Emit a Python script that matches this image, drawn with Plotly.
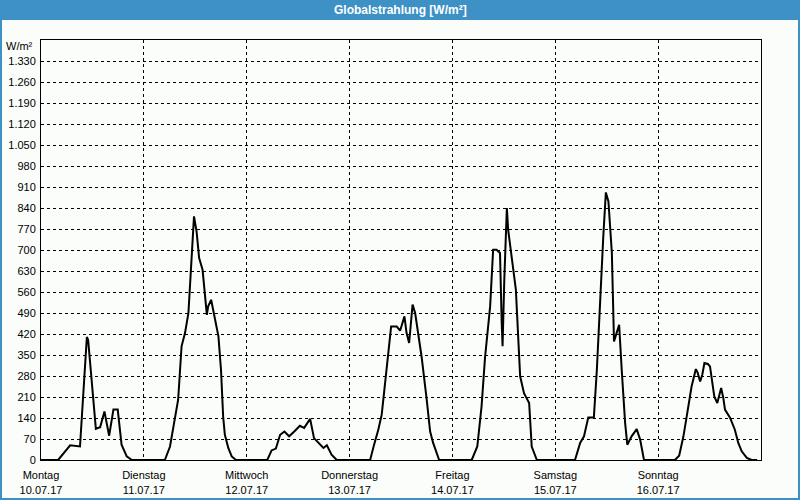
import plotly.graph_objects as go

# ---- data (hours since midnight of each day, W/m²) ----
day_names = ["Montag", "Dienstag", "Mittwoch", "Donnerstag", "Freitag", "Samstag", "Sonntag"]
day_dates = ["10.07.17", "11.07.17", "12.07.17", "13.07.17", "14.07.17", "15.07.17", "16.07.17"]

mon_h = [0, 4.0, 6.8, 9.1, 10.7, 11.0, 12.8, 13.8, 14.8, 15.9, 16.9, 17.9, 18.8, 20.0, 21.2]
mon_v = [0, 0, 49, 45, 410, 400, 104, 109, 162, 81, 168, 168, 51, 12, 0]

tue_h = [4.9, 6.1, 8.0, 8.8, 9.6, 10.4, 11.2, 11.7, 11.9, 12.3, 12.9, 13.7, 14.7, 15.0, 15.7,
         16.6, 17.4, 18.0, 18.5, 18.9, 19.7, 20.5, 21.5]
tue_v = [0, 45, 201, 379, 423, 490, 712, 812, 795, 762, 673, 634, 484, 512, 534,
         468, 412, 301, 145, 84, 40, 12, 0]

wed_h = [4.8, 5.8, 6.8, 7.8, 8.8, 9.9, 11.1, 12.4, 13.4, 14.8, 15.7, 17.1, 17.9, 18.7, 19.8, 21.0]
wed_v = [0, 32, 38, 84, 95, 79, 95, 114, 107, 137, 73, 51, 40, 49, 18, 0]

thu_h = [4.8, 5.7, 6.7, 7.5, 8.3, 9.7, 11.0, 11.8, 12.8, 13.3, 13.9, 14.7, 15.3, 16.8, 18.0, 18.8, 19.5, 20.9]
thu_v = [0, 50, 101, 151, 257, 445, 445, 431, 479, 423, 390, 518, 490, 345, 201, 95, 57, 0]

fri_h = [4.5, 5.8, 6.8, 7.6, 8.8, 9.5, 10.3, 11.1, 11.5, 11.7, 12.1, 12.7, 13.0, 13.8, 14.8,
         15.8, 16.7, 17.9, 18.5, 19.7]
fri_v = [0, 45, 179, 340, 512, 701, 701, 690, 457, 379, 601, 840, 768, 673, 568,
         279, 223, 190, 45, 0]

sat_h = [4.6, 5.8, 6.7, 7.7, 9.0, 9.7, 10.4, 11.2, 11.8, 12.4, 13.2, 13.7, 14.3, 14.9, 15.5,
         16.3, 16.8, 17.8, 19.0, 19.8, 20.7]
sat_v = [0, 57, 79, 142, 142, 301, 523, 745, 892, 862, 690, 395, 423, 451, 301,
         123, 51, 79, 103, 68, 0]

sun_h = [3.9, 4.9, 5.9, 6.8, 7.8, 8.8, 9.2, 9.8, 10.3, 10.8, 11.6, 12.1, 12.5, 13.1, 13.8,
         14.7, 15.2, 15.6, 16.8, 17.9, 18.7, 19.5, 20.7, 21.8, 23.1]
sun_v = [0, 14, 79, 157, 245, 303, 292, 262, 284, 323, 320, 312, 268, 212, 190,
         240, 207, 168, 140, 101, 57, 29, 7, 0, 0]

y_ticks = list(range(0, 1400, 70))
y_tick_labels = ["{:,}".format(v).replace(",", ".") for v in y_ticks]

days_h = [mon_h, tue_h, wed_h, thu_h, fri_h, sat_h, sun_h]
days_v = [mon_v, tue_v, wed_v, thu_v, fri_v, sat_v, sun_v]

x, y = [], []
for i, (hs, vs) in enumerate(zip(days_h, days_v)):
    x += [24 * i + h for h in hs]
    y += vs

FONT = "Liberation Sans"
BAR = "#3D91C4"

fig = go.Figure()
fig.add_trace(go.Scatter(x=x, y=y, mode="lines",
                         line=dict(color="black", width=2), hoverinfo="skip",
                         showlegend=False))

L, R, T, B = 41, 39, 40, 40
W, H = 800, 500
pw, ph = W - L - R, H - T - B

fig.update_layout(
    width=W, height=H,
    margin=dict(l=L, r=R, t=T, b=B),
    paper_bgcolor="#FAFDFA", plot_bgcolor="#FAFDFA",
    font=dict(family=FONT, size=11, color="black"),
    xaxis=dict(range=[0, 168], tickvals=[24 * i for i in range(7)],
               ticktext=[f"{n}<br>{d}" for n, d in zip(day_names, day_dates)],
               showgrid=True, gridcolor="black", gridwidth=1, griddash="3px,3px",
               showline=True, linecolor="black", linewidth=1, mirror=True,
               ticks="", zeroline=False, fixedrange=True, ticklabelstandoff=5,
               automargin=False),
    yaxis=dict(range=[0, 1400], tickvals=y_ticks, ticktext=y_tick_labels,
               showgrid=True, gridcolor="black", gridwidth=1, griddash="3px,3px",
               showline=True, linecolor="black", linewidth=1, mirror=True,
               ticks="", zeroline=False, fixedrange=True, ticklabelstandoff=2,
               automargin=False),
    shapes=[
        dict(type="rect", xref="paper", yref="paper",
             x0=-L / pw, x1=1 + R / pw, y0=1 + (T - 20) / ph, y1=1 + T / ph,
             fillcolor=BAR, line=dict(width=0), layer="below"),
        dict(type="rect", xref="paper", yref="paper",
             x0=-L / pw + 1 / pw, x1=1 + (R - 1) / pw, y0=-(B - 1) / ph, y1=1 + T / ph,
             fillcolor="rgba(0,0,0,0)", line=dict(width=2, color=BAR), layer="below"),
    ],
    annotations=[
        dict(text="<b>Globalstrahlung [W/m²]</b>", xref="paper", yref="paper",
             x=(400 - L) / pw, y=1 + (T - 10) / ph, xanchor="center", yanchor="middle",
             showarrow=False, font=dict(family=FONT, size=12, color="white")),
        dict(text="W/m²", xref="paper", yref="paper",
             x=-6 / pw, y=1 - 6 / ph, xanchor="right", yanchor="middle",
             showarrow=False, font=dict(family=FONT, size=11, color="black")),
    ],
)

fig.write_html("out.html")
